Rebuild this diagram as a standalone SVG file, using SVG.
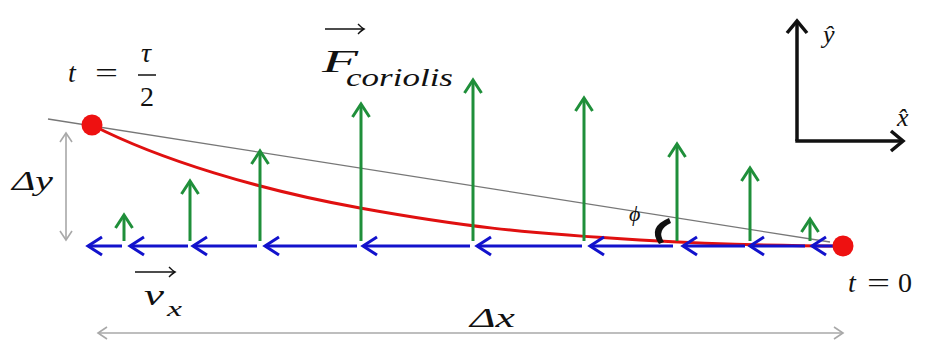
<svg xmlns="http://www.w3.org/2000/svg" width="925" height="341" viewBox="0 0 925 341">
<style>
text{font-family:'Liberation Serif','DejaVu Serif','Times New Roman',serif;fill:#111}
.math{font-style:italic}
.rm{font-style:normal}
.green{stroke:#1f8f3a;stroke-width:3;fill:none;marker-end:url(#mg)}
.blue{stroke:#1212cc;stroke-width:3;fill:none;marker-end:url(#mb)}
.gray{stroke:#a8a8a8;stroke-width:1.6;fill:none;marker-start:url(#mgs);marker-end:url(#mgy)}
.axis{stroke:#111;stroke-width:3.5;fill:none;marker-end:url(#mk)}
.vec{stroke:#111;stroke-width:1.4;fill:none;marker-end:url(#mv)}
</style>
<defs>
<marker id="mg" markerUnits="userSpaceOnUse" markerWidth="30" markerHeight="30" viewBox="-15 -15 30 30" refX="0" refY="0" orient="auto" overflow="visible">
<path d="M-13,-8.5 L0,0 L-13,8.5" fill="none" stroke="#1f8f3a" stroke-width="3"/>
</marker>
<marker id="mb" markerUnits="userSpaceOnUse" markerWidth="30" markerHeight="30" viewBox="-15 -15 30 30" refX="0" refY="0" orient="auto" overflow="visible">
<path d="M-14,-9 L0,0 L-14,9" fill="none" stroke="#1212cc" stroke-width="3"/>
</marker>
<marker id="mgy" markerUnits="userSpaceOnUse" markerWidth="30" markerHeight="30" viewBox="-15 -15 30 30" refX="0" refY="0" orient="auto" overflow="visible">
<path d="M-9,-6 L0,0 L-9,6" fill="none" stroke="#a8a8a8" stroke-width="1.6"/>
</marker>
<marker id="mgs" markerUnits="userSpaceOnUse" markerWidth="30" markerHeight="30" viewBox="-15 -15 30 30" refX="0" refY="0" orient="auto-start-reverse" overflow="visible">
<path d="M-9,-6 L0,0 L-9,6" fill="none" stroke="#a8a8a8" stroke-width="1.6"/>
</marker>
<marker id="mk" markerUnits="userSpaceOnUse" markerWidth="30" markerHeight="30" viewBox="-15 -15 30 30" refX="0" refY="0" orient="auto" overflow="visible">
<path d="M-12,-10 L0,0 L-12,10" fill="none" stroke="#111" stroke-width="3.5"/>
</marker>
<marker id="mv" markerUnits="userSpaceOnUse" markerWidth="20" markerHeight="20" viewBox="-10 -10 20 20" refX="0" refY="0" orient="auto" overflow="visible">
<path d="M-6,-5 Q-2,-1 0,0 Q-2,1 -6,5" fill="none" stroke="#111" stroke-width="1.4"/>
</marker>
</defs>
<rect width="925" height="341" fill="#fff"/>

<g id="chord">
<line x1="48" y1="119" x2="830" y2="242" stroke="#777" stroke-width="1.3"/>
</g>

<g id="trajectory">
<path d="M92,125 C160,160 260,190 360,208 S520,233 640,240 S780,245 843,246" fill="none" stroke="#e01010" stroke-width="3"/>
</g>

<g id="connectors">
<g id="velocity-arrows">
<line class="blue" x1="122" y1="246" x2="88" y2="246"/>
<line class="blue" x1="188" y1="246" x2="130" y2="246"/>
<line class="blue" x1="257" y1="246" x2="193" y2="246"/>
<line class="blue" x1="357" y1="246" x2="265" y2="246"/>
<line class="blue" x1="470" y1="246" x2="363" y2="246"/>
<line class="blue" x1="582" y1="246" x2="477" y2="246"/>
<line class="blue" x1="673" y1="246" x2="590" y2="246"/>
<line class="blue" x1="745" y1="246" x2="683" y2="246"/>
<line class="blue" x1="805" y1="246" x2="750" y2="246"/>
<line class="blue" x1="836" y1="246" x2="812" y2="246"/>
</g>
<g id="coriolis-arrows">
<line class="green" x1="124" y1="241" x2="124" y2="215"/>
<line class="green" x1="190" y1="241" x2="190" y2="181"/>
<line class="green" x1="260" y1="241" x2="260" y2="151"/>
<line class="green" x1="361" y1="241" x2="361" y2="104"/>
<line class="green" x1="473" y1="241" x2="473" y2="80"/>
<line class="green" x1="584" y1="241" x2="584" y2="98"/>
<line class="green" x1="677" y1="241" x2="677" y2="144"/>
<line class="green" x1="750" y1="241" x2="750" y2="168"/>
<line class="green" x1="810" y1="241" x2="810" y2="219"/>
</g>
<g id="dimension-arrows">
<line class="gray" x1="66" y1="133" x2="66" y2="240"/>
<line class="gray" x1="98" y1="333" x2="843" y2="333"/>
</g>
<g id="axes">
<polyline class="axis" points="797,141 797,21"/>
<line x1="795.3" y1="141" x2="903" y2="141" class="axis"/>
</g>
</g>

<g id="point-start">
<circle cx="92" cy="125" r="10.5" fill="#ee1111"/>
</g>
<g id="point-end">
<circle cx="843" cy="246" r="10.5" fill="#ee1111"/>
</g>

<g id="angle-phi">
<path d="M669,218 Q647,227 659,244 L664,242 Q656,230 671,223 Z" fill="#111"/>
<text class="math" x="629" y="221" font-size="22">ϕ</text>
</g>

<g id="label-t-half">
<text class="math" x="68" y="82" font-size="28">t</text>
<text class="rm" x="95" y="82" font-size="27" textLength="23" lengthAdjust="spacingAndGlyphs">=</text>
<text class="math" x="141" y="62" font-size="28">τ</text>
<line x1="138" y1="75" x2="156" y2="75" stroke="#111" stroke-width="1.5"/>
<text class="rm" x="140" y="106" font-size="28">2</text>
</g>

<g id="label-t-zero">
<text class="math" x="848" y="292" font-size="28">t</text>
<text class="rm" x="867" y="292" font-size="27" textLength="23" lengthAdjust="spacingAndGlyphs">=</text>
<text class="rm" x="898" y="292" font-size="28">0</text>
</g>

<g id="label-force">
<line class="vec" x1="325" y1="29" x2="364" y2="29"/>
<text class="math" x="322" y="72" font-size="32" textLength="36" lengthAdjust="spacingAndGlyphs">F</text>
<text class="math" x="346" y="86" font-size="25" textLength="107" lengthAdjust="spacingAndGlyphs">coriolis</text>
</g>

<g id="label-velocity">
<line class="vec" x1="135" y1="272" x2="175" y2="272"/>
<text class="math" x="144" y="305" font-size="30" textLength="20" lengthAdjust="spacingAndGlyphs">v</text>
<text class="math" x="167" y="316" font-size="21" textLength="15" lengthAdjust="spacingAndGlyphs">x</text>
</g>

<g id="label-dy">
<text class="math" x="12" y="190" font-size="27" textLength="41" lengthAdjust="spacingAndGlyphs">Δy</text>
</g>
<g id="label-dx">
<text class="math" x="470" y="327" font-size="27" textLength="45" lengthAdjust="spacingAndGlyphs">Δx</text>
</g>

<g id="label-axes">
<text class="math" x="823" y="43" font-size="26">ŷ</text>
<text class="math" x="897" y="126" font-size="26">x̂</text>
</g>
</svg>
